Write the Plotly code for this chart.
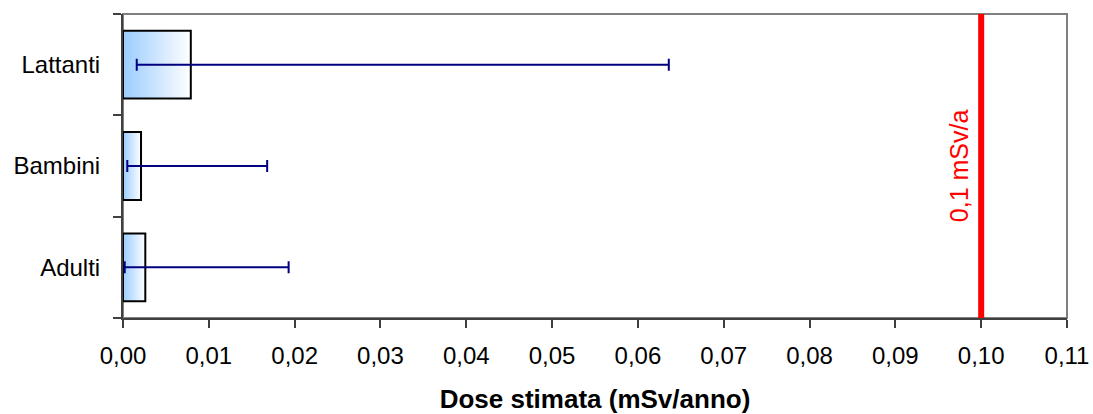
import plotly.graph_objects as go

categories = ["Adulti", "Bambini", "Lattanti"]
dose_values = [0.0026, 0.0021, 0.0079]
dose_low = [0.0002, 0.0005, 0.0016]
dose_high = [0.0193, 0.0168, 0.0636]
limit_value = 0.1
limit_label = "0,1 mSv/a"
x_tick_values = [round(i * 0.01, 2) for i in range(12)]

fig = go.Figure()
half = 0.335
for i, (c, v) in enumerate(zip(categories, dose_values)):
    fig.add_trace(go.Scatter(
        x=[0, v, v, 0, 0],
        y=[i - half, i - half, i + half, i + half, i - half],
        mode="lines", fill="toself",
        fillgradient=dict(type="horizontal",
                          colorscale=[[0, "rgb(155,204,255)"], [1, "rgb(255,255,255)"]]),
        line=dict(color="black", width=2),
        showlegend=False, hoverinfo="skip", name=c,
    ))

fig.add_trace(go.Scatter(
    x=dose_values, y=list(range(len(categories))), mode="markers",
    marker=dict(size=1, color="rgba(0,0,0,0)"),
    error_x=dict(type="data", symmetric=False,
                 array=[h - v for h, v in zip(dose_high, dose_values)],
                 arrayminus=[v - l for v, l in zip(dose_values, dose_low)],
                 color="rgb(0,0,128)", thickness=2, width=6),
    showlegend=False,
))

fig.add_shape(type="rect", xref="paper", yref="paper", x0=0, x1=1, y0=0, y1=1,
              line=dict(color="#808080", width=2), layer="below")
fig.add_shape(type="line", xref="x", yref="paper", x0=limit_value, x1=limit_value,
              y0=0, y1=1, line=dict(color="#FF0000", width=6))
fig.add_annotation(x=limit_value, y=0.5, xref="x", yref="paper", text=limit_label,
                   textangle=-90, showarrow=False, xshift=-22,
                   font=dict(color="#FF0000", size=25, family="Arial, Liberation Sans"))

fig.update_layout(
    width=1093, height=414,
    margin=dict(l=123, r=26, t=14, b=96),
    paper_bgcolor="white", plot_bgcolor="white",
    separators=",.",
    font=dict(family="Arial, Liberation Sans", size=24, color="black"),
    xaxis=dict(range=[0, 0.11], tickvals=x_tick_values, tickformat=".2f",
               showgrid=False, zeroline=False, showline=True, linecolor="#404040",
               linewidth=2, ticks="outside", ticklen=8, tickwidth=1.5, tickcolor="#404040",
               ticklabelstandoff=7, automargin=False,
               title=dict(text="<b>Dose stimata (mSv/anno)</b>", font=dict(size=26),
                          standoff=23)),
    yaxis=dict(range=[-0.5, 2.5], tickvals=[0, 1, 2], ticktext=categories,
               showgrid=False, zeroline=False, showline=True, linecolor="#404040",
               linewidth=2, ticks="", ticklabelstandoff=16, automargin=False,
               minor=dict(tickvals=[-0.5, 0.5, 1.5, 2.5], ticks="outside", ticklen=8,
                          tickwidth=1.5, tickcolor="#404040")),
)

fig.write_html("out.html")
